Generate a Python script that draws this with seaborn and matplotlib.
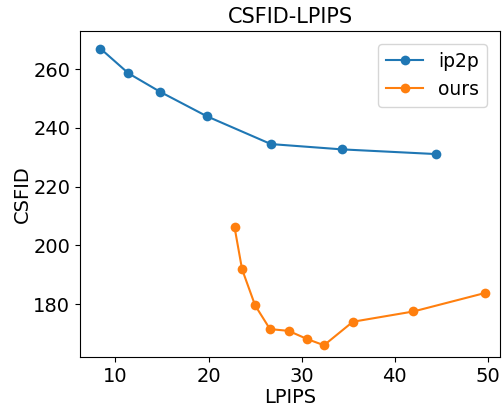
import pandas as pd
import matplotlib.pyplot as plt
import seaborn as sns

# values
ip2p_lpips = [8.4, 11.4, 14.8, 19.8, 26.7, 34.3, 44.4]
ip2p_csfid = [267.0, 258.6, 252.3, 244.0, 234.5, 232.7, 231.1]

ours_lpips = [22.8, 23.6, 25.0, 26.6, 28.6, 30.6, 32.4, 35.5, 42.0, 49.7]
ours_csfid = [206.1, 191.9, 179.6, 171.5, 170.9, 168.1, 166.0, 174.0, 177.5, 183.8]

data = pd.concat([
    pd.DataFrame({'LPIPS': ip2p_lpips, 'CSFID': ip2p_csfid, 'method': 'ip2p'}),
    pd.DataFrame({'LPIPS': ours_lpips, 'CSFID': ours_csfid, 'method': 'ours'}),
])

fig, ax = plt.subplots(figsize=(5.03, 4.08), dpi=100)
fig.subplots_adjust(left=80/503, right=500/503, top=1-31/408, bottom=1-357/408)

sns.lineplot(data=data, x='LPIPS', y='CSFID', hue='method', marker='o',
             markeredgewidth=0, markersize=7, sort=False, palette=['#1f77b4', '#ff7f0e'],
             ax=ax)

ax.set_xlim(6.2, 51.3)
ax.set_ylim(162, 273)
ax.set_title('CSFID-LPIPS', fontsize=15)
ax.set_xlabel('LPIPS', fontsize=14, labelpad=1.5)
ax.set_ylabel('CSFID', fontsize=14, labelpad=1)
ax.tick_params(labelsize=14)
ax.legend(title=None, fontsize=13.5, loc='upper right', borderaxespad=0.7)

plt.savefig('out.png', dpi=100)
